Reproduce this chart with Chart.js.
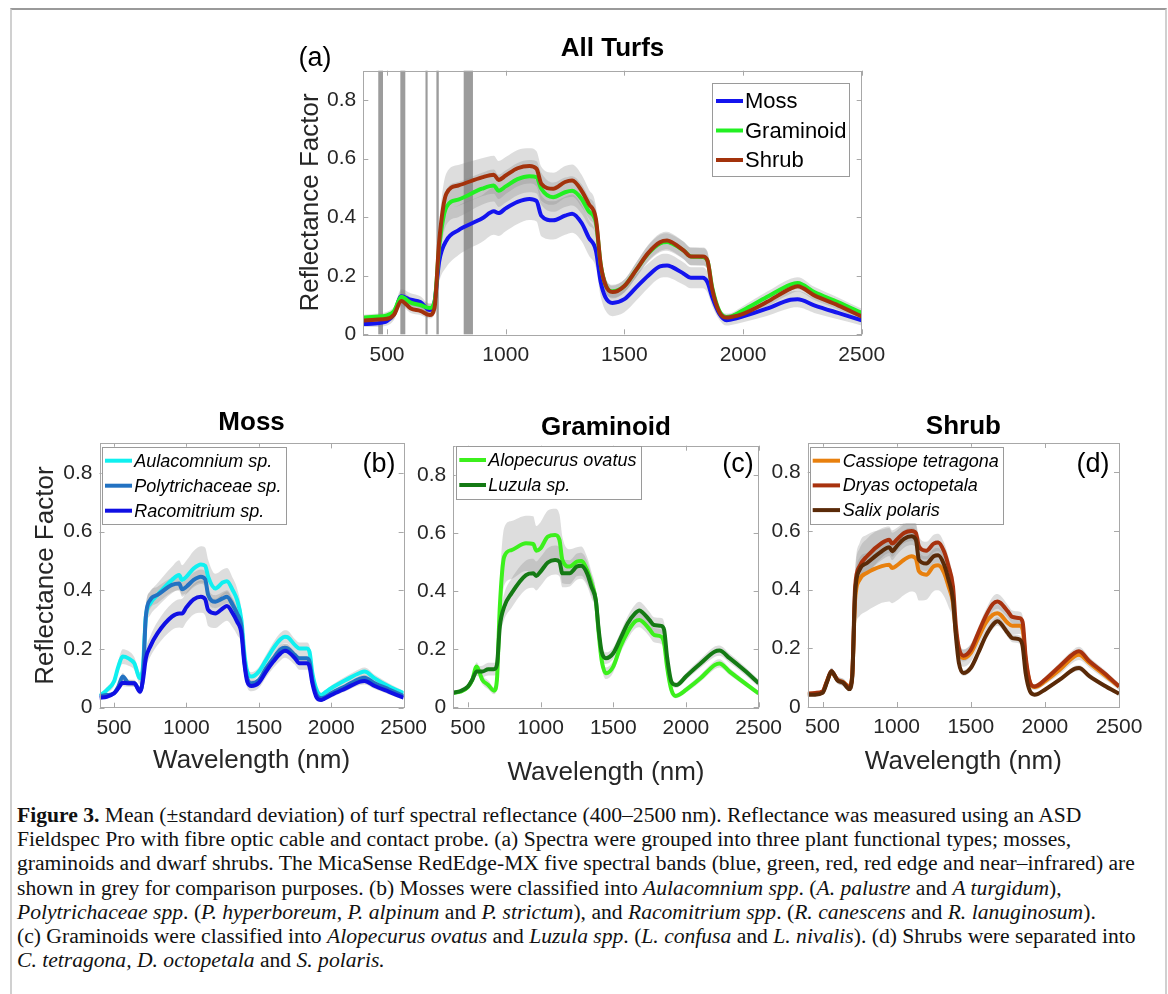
<!DOCTYPE html>
<html>
<head>
<meta charset="utf-8">
<script src="https://cdn.jsdelivr.net/npm/chart.js@4.4.0/dist/chart.umd.min.js"></script>
<style>
body { margin:0; background:#fff; width:1168px; height:994px; overflow:hidden; position:relative; }
#frame { position:absolute; left:10px; top:8px; width:1153px; height:1000px; border-left:2px solid #d0d0d0; border-right:2px solid #d0d0d0; border-top:2px solid #9a9a9a; }
canvas { position:absolute; }
#caption { position:absolute; left:17px; top:803px; font-family:"Liberation Serif","Times New Roman",serif; font-size:21.6px; line-height:24.2px; color:#111; white-space:nowrap; }
</style>
</head>
<body>
<div id="frame"></div>
<canvas id="chartA" width="660" height="360" style="left:240px;top:20px"></canvas>
<canvas id="chartB" width="420" height="395" style="left:15px;top:395px"></canvas>
<canvas id="chartC" width="390" height="395" style="left:400px;top:395px"></canvas>
<canvas id="chartD" width="400" height="395" style="left:760px;top:395px"></canvas>
<div id="caption">
<b>Figure 3.</b> Mean (±standard deviation) of turf spectral reflectance (400–2500 nm). Reflectance was measured using an ASD<br>
Fieldspec Pro with fibre optic cable and contact probe. (a) Spectra were grouped into three plant functional types; mosses,<br>
graminoids and dwarf shrubs. The MicaSense RedEdge-MX five spectral bands (blue, green, red, red edge and near–infrared) are<br>
shown in grey for comparison purposes. (b) Mosses were classified into <i>Aulacomnium spp</i>. (<i>A. palustre</i> and <i>A turgidum</i>),<br>
<i>Polytrichaceae spp</i>. (<i>P. hyperboreum</i>, <i>P. alpinum</i> and <i>P. strictum</i>), and <i>Racomitrium spp</i>. (<i>R. canescens</i> and <i>R. lanuginosum</i>).<br>
(c) Graminoids were classified into <i>Alopecurus ovatus</i> and <i>Luzula spp</i>. (<i>L. confusa</i> and <i>L. nivalis</i>). (d) Shrubs were separated into<br>
<i>C. tetragona, D. octopetala</i> and <i>S. polaris.</i>
</div>
<script>
// wavelength grid (nm) shared by all spectra
var wavelengths = [400,450,500,530,560,600,640,680,700,720,750,800,900,950,970,1000,1050,1100,1130,1150,1200,1250,1280,1320,1350,1380,1400,1420,1450,1500,1550,1600,1650,1680,1700,1750,1780,1830,1850,1870,1900,1930,1950,2000,2100,2200,2230,2300,2400,2500];
var xTicks = [500,1000,1500,2000,2500];
var yTicks = [0,0.2,0.4,0.6,0.8];

// MicaSense RedEdge-MX bands (nm)
var bandStart = [463,556,662,708,823];
var bandEnd = [483,577,671,718,862];

// (a) all turfs
var mossMean = [0.035,0.037,0.045,0.07,0.13,0.118,0.11,0.083,0.11,0.25,0.32,0.355,0.395,0.42,0.414,0.43,0.452,0.462,0.455,0.405,0.389,0.405,0.412,0.38,0.33,0.286,0.18,0.127,0.107,0.12,0.16,0.2,0.232,0.235,0.23,0.207,0.193,0.193,0.178,0.127,0.07,0.048,0.05,0.061,0.0875,0.118,0.12,0.099,0.073,0.048];
var mossSd = [0.01,0.012,0.015,0.02,0.025,0.022,0.02,0.02,0.03,0.07,0.09,0.085,0.08,0.08,0.078,0.078,0.075,0.072,0.07,0.07,0.065,0.065,0.065,0.062,0.06,0.058,0.05,0.045,0.045,0.045,0.045,0.042,0.04,0.04,0.04,0.038,0.036,0.036,0.035,0.03,0.02,0.018,0.018,0.02,0.025,0.028,0.028,0.026,0.022,0.018];
var graminoidMean = [0.057,0.06,0.065,0.08,0.128,0.108,0.1,0.09,0.11,0.3,0.434,0.46,0.497,0.508,0.49,0.505,0.53,0.54,0.536,0.497,0.468,0.485,0.49,0.462,0.42,0.383,0.24,0.17,0.147,0.165,0.22,0.275,0.31,0.315,0.31,0.286,0.266,0.264,0.252,0.16,0.08,0.059,0.061,0.082,0.127,0.17,0.175,0.144,0.11,0.073];
var graminoidSd = [0.01,0.01,0.012,0.015,0.02,0.018,0.017,0.016,0.02,0.05,0.06,0.06,0.055,0.055,0.055,0.055,0.055,0.055,0.055,0.055,0.05,0.05,0.05,0.05,0.048,0.045,0.035,0.025,0.022,0.022,0.025,0.028,0.03,0.03,0.03,0.03,0.03,0.03,0.03,0.025,0.015,0.012,0.012,0.015,0.018,0.02,0.02,0.018,0.016,0.014];
var shrubMean = [0.047,0.05,0.053,0.068,0.114,0.088,0.08,0.066,0.09,0.32,0.48,0.508,0.536,0.545,0.527,0.542,0.567,0.575,0.565,0.514,0.497,0.52,0.525,0.49,0.445,0.394,0.24,0.17,0.144,0.165,0.22,0.277,0.314,0.32,0.314,0.286,0.266,0.266,0.252,0.155,0.076,0.057,0.059,0.07,0.11,0.156,0.164,0.133,0.099,0.061];
var shrubSd = [0.008,0.008,0.01,0.015,0.018,0.015,0.014,0.012,0.02,0.06,0.07,0.07,0.065,0.065,0.065,0.063,0.062,0.06,0.06,0.058,0.055,0.055,0.055,0.055,0.05,0.045,0.035,0.025,0.022,0.022,0.025,0.028,0.03,0.03,0.03,0.03,0.03,0.03,0.03,0.025,0.012,0.01,0.01,0.012,0.015,0.018,0.018,0.016,0.014,0.012];

// (b) mosses
var aulacomniumMean = [0.04,0.06,0.089,0.14,0.174,0.168,0.151,0.1,0.14,0.31,0.355,0.384,0.435,0.452,0.435,0.446,0.474,0.488,0.483,0.446,0.406,0.426,0.431,0.4,0.367,0.298,0.185,0.123,0.106,0.123,0.162,0.202,0.233,0.242,0.24,0.213,0.202,0.202,0.19,0.117,0.06,0.043,0.049,0.066,0.094,0.119,0.123,0.1,0.072,0.049];
var aulacomniumSd = [0.005,0.01,0.015,0.02,0.025,0.025,0.022,0.02,0.03,0.04,0.04,0.04,0.045,0.05,0.05,0.055,0.06,0.062,0.062,0.058,0.05,0.045,0.045,0.042,0.04,0.035,0.025,0.018,0.015,0.015,0.018,0.02,0.022,0.022,0.022,0.02,0.02,0.02,0.02,0.015,0.01,0.008,0.008,0.01,0.012,0.014,0.014,0.012,0.01,0.008];
var polytrichMean = [0.04,0.043,0.049,0.072,0.106,0.085,0.083,0.06,0.106,0.31,0.367,0.384,0.418,0.423,0.403,0.412,0.435,0.446,0.437,0.384,0.361,0.372,0.378,0.35,0.321,0.276,0.162,0.1,0.083,0.094,0.134,0.168,0.199,0.204,0.202,0.179,0.168,0.168,0.157,0.094,0.043,0.032,0.034,0.049,0.074,0.099,0.102,0.083,0.062,0.04];
var polytrichSd = [0.004,0.004,0.005,0.008,0.012,0.01,0.01,0.008,0.015,0.03,0.03,0.028,0.025,0.025,0.025,0.025,0.025,0.025,0.025,0.025,0.022,0.022,0.022,0.022,0.02,0.02,0.015,0.012,0.01,0.01,0.012,0.014,0.015,0.015,0.015,0.014,0.014,0.014,0.014,0.01,0.006,0.005,0.005,0.006,0.008,0.01,0.01,0.009,0.008,0.006];
var racomitriumMean = [0.034,0.037,0.049,0.066,0.085,0.083,0.083,0.054,0.094,0.168,0.208,0.253,0.31,0.321,0.321,0.342,0.369,0.378,0.369,0.333,0.321,0.338,0.346,0.321,0.293,0.253,0.151,0.089,0.074,0.085,0.123,0.157,0.185,0.194,0.191,0.168,0.151,0.151,0.14,0.083,0.034,0.026,0.03,0.043,0.066,0.089,0.091,0.074,0.054,0.034];
var racomitriumSd = [0.004,0.005,0.008,0.01,0.012,0.012,0.012,0.01,0.015,0.03,0.035,0.04,0.045,0.048,0.05,0.05,0.052,0.055,0.055,0.055,0.05,0.05,0.05,0.048,0.045,0.04,0.03,0.02,0.018,0.018,0.02,0.022,0.024,0.024,0.024,0.022,0.022,0.022,0.02,0.015,0.008,0.006,0.006,0.008,0.01,0.012,0.012,0.01,0.009,0.007];

// (c) graminoids
var alopecurusMean = [0.05,0.054,0.069,0.094,0.14,0.094,0.077,0.057,0.094,0.346,0.518,0.541,0.564,0.562,0.539,0.547,0.587,0.593,0.576,0.507,0.484,0.501,0.503,0.472,0.427,0.369,0.255,0.163,0.117,0.14,0.209,0.26,0.295,0.3,0.295,0.268,0.249,0.243,0.22,0.14,0.06,0.039,0.042,0.06,0.1,0.146,0.151,0.123,0.085,0.048];
var alopecurusSd = [0.005,0.006,0.008,0.012,0.015,0.015,0.015,0.012,0.02,0.08,0.1,0.1,0.095,0.095,0.085,0.09,0.09,0.09,0.088,0.08,0.06,0.05,0.05,0.045,0.04,0.035,0.03,0.025,0.02,0.02,0.022,0.025,0.025,0.025,0.025,0.025,0.025,0.025,0.025,0.02,0.01,0.008,0.008,0.01,0.012,0.014,0.014,0.012,0.01,0.008];
var luzulaMean = [0.05,0.056,0.071,0.094,0.123,0.123,0.131,0.131,0.146,0.278,0.346,0.392,0.455,0.461,0.452,0.467,0.498,0.507,0.501,0.461,0.461,0.484,0.487,0.461,0.415,0.369,0.266,0.192,0.169,0.186,0.237,0.289,0.323,0.333,0.327,0.3,0.283,0.28,0.266,0.174,0.088,0.077,0.08,0.106,0.151,0.192,0.195,0.169,0.128,0.083];
var luzulaSd = [0.005,0.006,0.008,0.012,0.015,0.02,0.022,0.022,0.025,0.04,0.045,0.05,0.05,0.05,0.05,0.05,0.05,0.05,0.05,0.048,0.045,0.045,0.045,0.043,0.04,0.035,0.028,0.022,0.02,0.02,0.022,0.025,0.03,0.03,0.03,0.028,0.027,0.027,0.026,0.02,0.012,0.01,0.01,0.012,0.015,0.018,0.018,0.016,0.014,0.012];

// (d) shrubs
var cassiopeMean = [0.045,0.045,0.05,0.088,0.118,0.093,0.084,0.07,0.105,0.366,0.434,0.457,0.48,0.485,0.474,0.482,0.502,0.514,0.505,0.463,0.451,0.48,0.483,0.457,0.411,0.355,0.252,0.19,0.167,0.184,0.235,0.286,0.315,0.32,0.315,0.286,0.277,0.277,0.264,0.161,0.082,0.068,0.07,0.0875,0.127,0.173,0.178,0.15,0.11,0.07];
var cassiopeSd = [0.005,0.005,0.006,0.01,0.012,0.012,0.012,0.01,0.02,0.1,0.125,0.13,0.125,0.125,0.12,0.12,0.12,0.12,0.118,0.1,0.085,0.085,0.085,0.08,0.07,0.06,0.045,0.035,0.03,0.03,0.03,0.03,0.03,0.03,0.03,0.028,0.028,0.028,0.028,0.02,0.012,0.01,0.01,0.012,0.015,0.018,0.018,0.016,0.014,0.012];
var dryasMean = [0.045,0.048,0.053,0.088,0.122,0.093,0.084,0.068,0.105,0.41,0.48,0.514,0.559,0.57,0.557,0.57,0.593,0.6,0.593,0.548,0.533,0.557,0.561,0.53,0.48,0.411,0.275,0.201,0.175,0.195,0.252,0.309,0.352,0.36,0.355,0.326,0.307,0.303,0.289,0.173,0.084,0.07,0.073,0.093,0.139,0.184,0.19,0.156,0.116,0.07];
var dryasSd = [0.005,0.005,0.006,0.01,0.012,0.012,0.012,0.01,0.02,0.05,0.06,0.06,0.05,0.045,0.045,0.04,0.035,0.035,0.035,0.035,0.03,0.03,0.03,0.03,0.03,0.028,0.025,0.02,0.02,0.02,0.02,0.022,0.025,0.025,0.025,0.022,0.022,0.022,0.022,0.018,0.01,0.008,0.008,0.01,0.012,0.015,0.015,0.014,0.012,0.01];
var salixMean = [0.042,0.042,0.048,0.084,0.122,0.091,0.082,0.061,0.099,0.389,0.468,0.491,0.531,0.545,0.531,0.548,0.573,0.582,0.57,0.502,0.489,0.514,0.517,0.485,0.434,0.366,0.241,0.15,0.116,0.133,0.184,0.241,0.281,0.292,0.286,0.252,0.235,0.23,0.207,0.116,0.053,0.042,0.044,0.059,0.093,0.13,0.133,0.105,0.073,0.045];
var salixSd = [0.004,0.004,0.005,0.008,0.01,0.01,0.01,0.008,0.015,0.04,0.04,0.035,0.03,0.03,0.03,0.03,0.03,0.03,0.03,0.03,0.025,0.025,0.025,0.025,0.022,0.02,0.015,0.012,0.01,0.01,0.012,0.014,0.015,0.015,0.015,0.014,0.014,0.014,0.014,0.01,0.006,0.005,0.005,0.006,0.008,0.01,0.01,0.009,0.008,0.006];

Chart.defaults.font.family = "'Liberation Sans', Arial, sans-serif";
var TXT = '#262626';

function pts(mean, sd, sign) {
  return wavelengths.map(function (w, i) { return { x: w, y: mean[i] + sign * (sd ? sd[i] : 0) }; });
}

// frame, inward ticks, micasense bands, title, tag and legend
var decor = {
  id: 'decor',
  beforeDatasetsDraw: function (chart) {
    var p = chart.options.plugins.decor;
    if (!p.bands) return;
    var ctx = chart.ctx, a = chart.chartArea, xs = chart.scales.x;
    ctx.save();
    ctx.fillStyle = '#9c9c9c';
    for (var i = 0; i < bandStart.length; i++) {
      var x0 = xs.getPixelForValue(bandStart[i]), x1 = xs.getPixelForValue(bandEnd[i]);
      ctx.fillRect(x0, a.top, x1 - x0, a.bottom - a.top);
    }
    ctx.restore();
  },
  afterDraw: function (chart) {
    var p = chart.options.plugins.decor;
    var ctx = chart.ctx, a = chart.chartArea, xs = chart.scales.x, ys = chart.scales.y;
    var ox = p.box[0], oy = p.box[1];
    ctx.save();
    ctx.strokeStyle = '#a8a8a8';
    ctx.lineWidth = 1;
    ctx.strokeRect(Math.round(a.left) + 0.5, Math.round(a.top) + 0.5, Math.round(a.right - a.left), Math.round(a.bottom - a.top));
    ctx.beginPath();
    xTicks.forEach(function (v) {
      var x = Math.round(xs.getPixelForValue(v)) + 0.5;
      ctx.moveTo(x, a.bottom); ctx.lineTo(x, a.bottom - 5);
      ctx.moveTo(x, a.top); ctx.lineTo(x, a.top + 5);
    });
    yTicks.forEach(function (v) {
      var y = Math.round(ys.getPixelForValue(v)) + 0.5;
      ctx.moveTo(a.left, y); ctx.lineTo(a.left + 5, y);
      ctx.moveTo(a.right, y); ctx.lineTo(a.right - 5, y);
    });
    ctx.stroke();

    // title and panel tag
    ctx.fillStyle = '#000';
    ctx.textAlign = 'center';
    ctx.textBaseline = 'alphabetic';
    ctx.font = "bold 26px 'Liberation Sans', Arial, sans-serif";
    ctx.fillText(p.title, (a.left + a.right) / 2, p.titleY - oy);
    ctx.font = "27px 'Liberation Sans', Arial, sans-serif";
    ctx.fillText(p.tag[0], p.tag[1] - ox, p.tag[2] - oy);

    // legend
    var lg = p.legend;
    ctx.fillStyle = '#fff';
    ctx.fillRect(lg.x - ox, lg.y - oy, lg.w, lg.h);
    ctx.strokeStyle = '#9a9a9a';
    ctx.strokeRect(Math.round(lg.x - ox) + 0.5, Math.round(lg.y - oy) + 0.5, Math.round(lg.w), Math.round(lg.h));
    ctx.font = lg.font;
    ctx.textAlign = 'left';
    ctx.textBaseline = 'middle';
    p.series.forEach(function (s, i) {
      var y = lg.row0 + i * lg.gap - oy;
      ctx.strokeStyle = s.color;
      ctx.lineWidth = 4;
      ctx.beginPath();
      ctx.moveTo(lg.l0 - ox, y); ctx.lineTo(lg.l1 - ox, y);
      ctx.stroke();
      ctx.fillStyle = '#000';
      ctx.fillText(s.label, lg.tx - ox, y + 1);
    });
    ctx.restore();
  }
};

function makePanel(id, cfg) {
  var datasets = [];
  cfg.series.forEach(function (s) {
    datasets.push({ data: pts(s.mean, s.sd, 1), borderWidth: 0, pointRadius: 0, fill: '+1',
      backgroundColor: 'rgba(128,128,128,0.27)', cubicInterpolationMode: 'monotone', order: 100, clip: 0 });
    datasets.push({ data: pts(s.mean, s.sd, -1), borderWidth: 0, pointRadius: 0, fill: false,
      cubicInterpolationMode: 'monotone', order: 100, clip: 0 });
  });
  cfg.series.forEach(function (s, i) {
    datasets.push({ label: s.label, data: pts(s.mean, null, 0), borderColor: s.color, borderWidth: 4,
      pointRadius: 0, fill: false, cubicInterpolationMode: 'monotone', order: 10 - i, clip: 0 });
  });
  var b = cfg.box, ar = cfg.area;
  new Chart(document.getElementById(id), {
    type: 'line',
    data: { datasets: datasets },
    options: {
      responsive: false,
      animation: false,
      devicePixelRatio: 1,
      layout: { padding: {
        left: ar[0] - b[0] - cfg.yW,
        top: ar[1] - b[1],
        right: b[0] + b[2] - ar[2],
        bottom: b[1] + b[3] - ar[3] - cfg.xH
      } },
      plugins: {
        legend: { display: false },
        tooltip: { enabled: false },
        decor: { box: b, title: cfg.title, titleY: cfg.titleY, tag: cfg.tag, legend: cfg.legend, series: cfg.series, bands: cfg.bands }
      },
      scales: {
        x: {
          type: 'linear', min: 400, max: 2500,
          afterBuildTicks: function (s) { s.ticks = xTicks.map(function (v) { return { value: v }; }); },
          afterFit: function (s) { s.height = cfg.xH; },
          grid: { display: false, drawTicks: false },
          border: { display: false },
          ticks: { color: TXT, font: { size: 21 }, padding: 8, maxRotation: 0, autoSkip: false,
            callback: function (v) { return String(v); } },
          title: { display: !!cfg.xTitle, text: cfg.xTitle, color: TXT, font: { size: 26 }, padding: 0 }
        },
        y: {
          type: 'linear', min: 0, max: 0.9,
          afterBuildTicks: function (s) { s.ticks = yTicks.map(function (v) { return { value: v }; }); },
          afterFit: function (s) { s.width = cfg.yW; },
          grid: { display: false, drawTicks: false },
          border: { display: false },
          ticks: { color: TXT, font: { size: 21 }, padding: 7,
            callback: function (v) { return v === 0 ? '0' : v.toFixed(1); } },
          title: { display: !!cfg.yTitle, text: cfg.yTitle, color: TXT, font: { size: 26 }, padding: 0 }
        }
      }
    },
    plugins: [decor]
  });
}

makePanel('chartA', {
  box: [240, 20, 660, 360], area: [363.3, 70.7, 861.7, 334.3], yW: 67.9, xH: 40,
  yTitle: 'Reflectance Factor', xTitle: '', title: 'All Turfs', titleY: 56, tag: ['(a)', 315, 66], bands: true,
  legend: { x: 712, y: 82.5, w: 137, h: 93, l0: 716, l1: 743, tx: 745, row0: 101, gap: 29.5, font: "22px 'Liberation Sans', Arial, sans-serif" },
  series: [
    { label: 'Moss', color: '#1414ee', mean: mossMean, sd: mossSd },
    { label: 'Graminoid', color: '#22f022', mean: graminoidMean, sd: graminoidSd },
    { label: 'Shrub', color: '#a3320c', mean: shrubMean, sd: shrubSd }
  ]
});

makePanel('chartB', {
  box: [15, 395, 420, 395], area: [99.5, 443.4, 410, 707.7], yW: 69.1, xH: 68.9,
  yTitle: 'Reflectance Factor', xTitle: 'Wavelength (nm)', title: 'Moss', titleY: 430, tag: ['(b)', 379, 472],
  legend: { x: 101.7, y: 446.7, w: 184, h: 76.6, l0: 105, l1: 132, tx: 134.3, row0: 460.7, gap: 25, font: "italic 18px 'Liberation Sans', Arial, sans-serif" },
  series: [
    { label: 'Aulacomnium sp.', color: '#10f0f0', mean: aulacomniumMean, sd: aulacomniumSd },
    { label: 'Polytrichaceae sp.', color: '#2272c2', mean: polytrichMean, sd: polytrichSd },
    { label: 'Racomitrium sp.', color: '#1010e4', mean: racomitriumMean, sd: racomitriumSd }
  ]
});

makePanel('chartC', {
  box: [400, 395, 390, 395], area: [453.3, 445.7, 765, 707.3], yW: 40, xH: 81,
  yTitle: '', xTitle: 'Wavelength (nm)', title: 'Graminoid', titleY: 435, tag: ['(c)', 738, 472],
  legend: { x: 455.7, y: 445.7, w: 185.3, h: 52.6, l0: 459.3, l1: 486, tx: 488.3, row0: 460, gap: 25, font: "italic 18px 'Liberation Sans', Arial, sans-serif" },
  series: [
    { label: 'Alopecurus ovatus', color: '#3cf01c', mean: alopecurusMean, sd: alopecurusSd },
    { label: 'Luzula sp.', color: '#147a14', mean: luzulaMean, sd: luzulaSd }
  ]
});

makePanel('chartD', {
  box: [760, 395, 400, 395], area: [807.7, 443, 1119, 707], yW: 40, xH: 70,
  yTitle: '', xTitle: 'Wavelength (nm)', title: 'Shrub', titleY: 434, tag: ['(d)', 1093, 472],
  legend: { x: 810, y: 446.7, w: 193.3, h: 76.6, l0: 812.7, l1: 840, tx: 842.7, row0: 460.7, gap: 24.7, font: "italic 18px 'Liberation Sans', Arial, sans-serif" },
  series: [
    { label: 'Cassiope tetragona', color: '#e8800e', mean: cassiopeMean, sd: cassiopeSd },
    { label: 'Dryas octopetala', color: '#a8320e', mean: dryasMean, sd: dryasSd },
    { label: 'Salix polaris', color: '#5a2a08', mean: salixMean, sd: salixSd }
  ]
});
</script>
</body>
</html>
